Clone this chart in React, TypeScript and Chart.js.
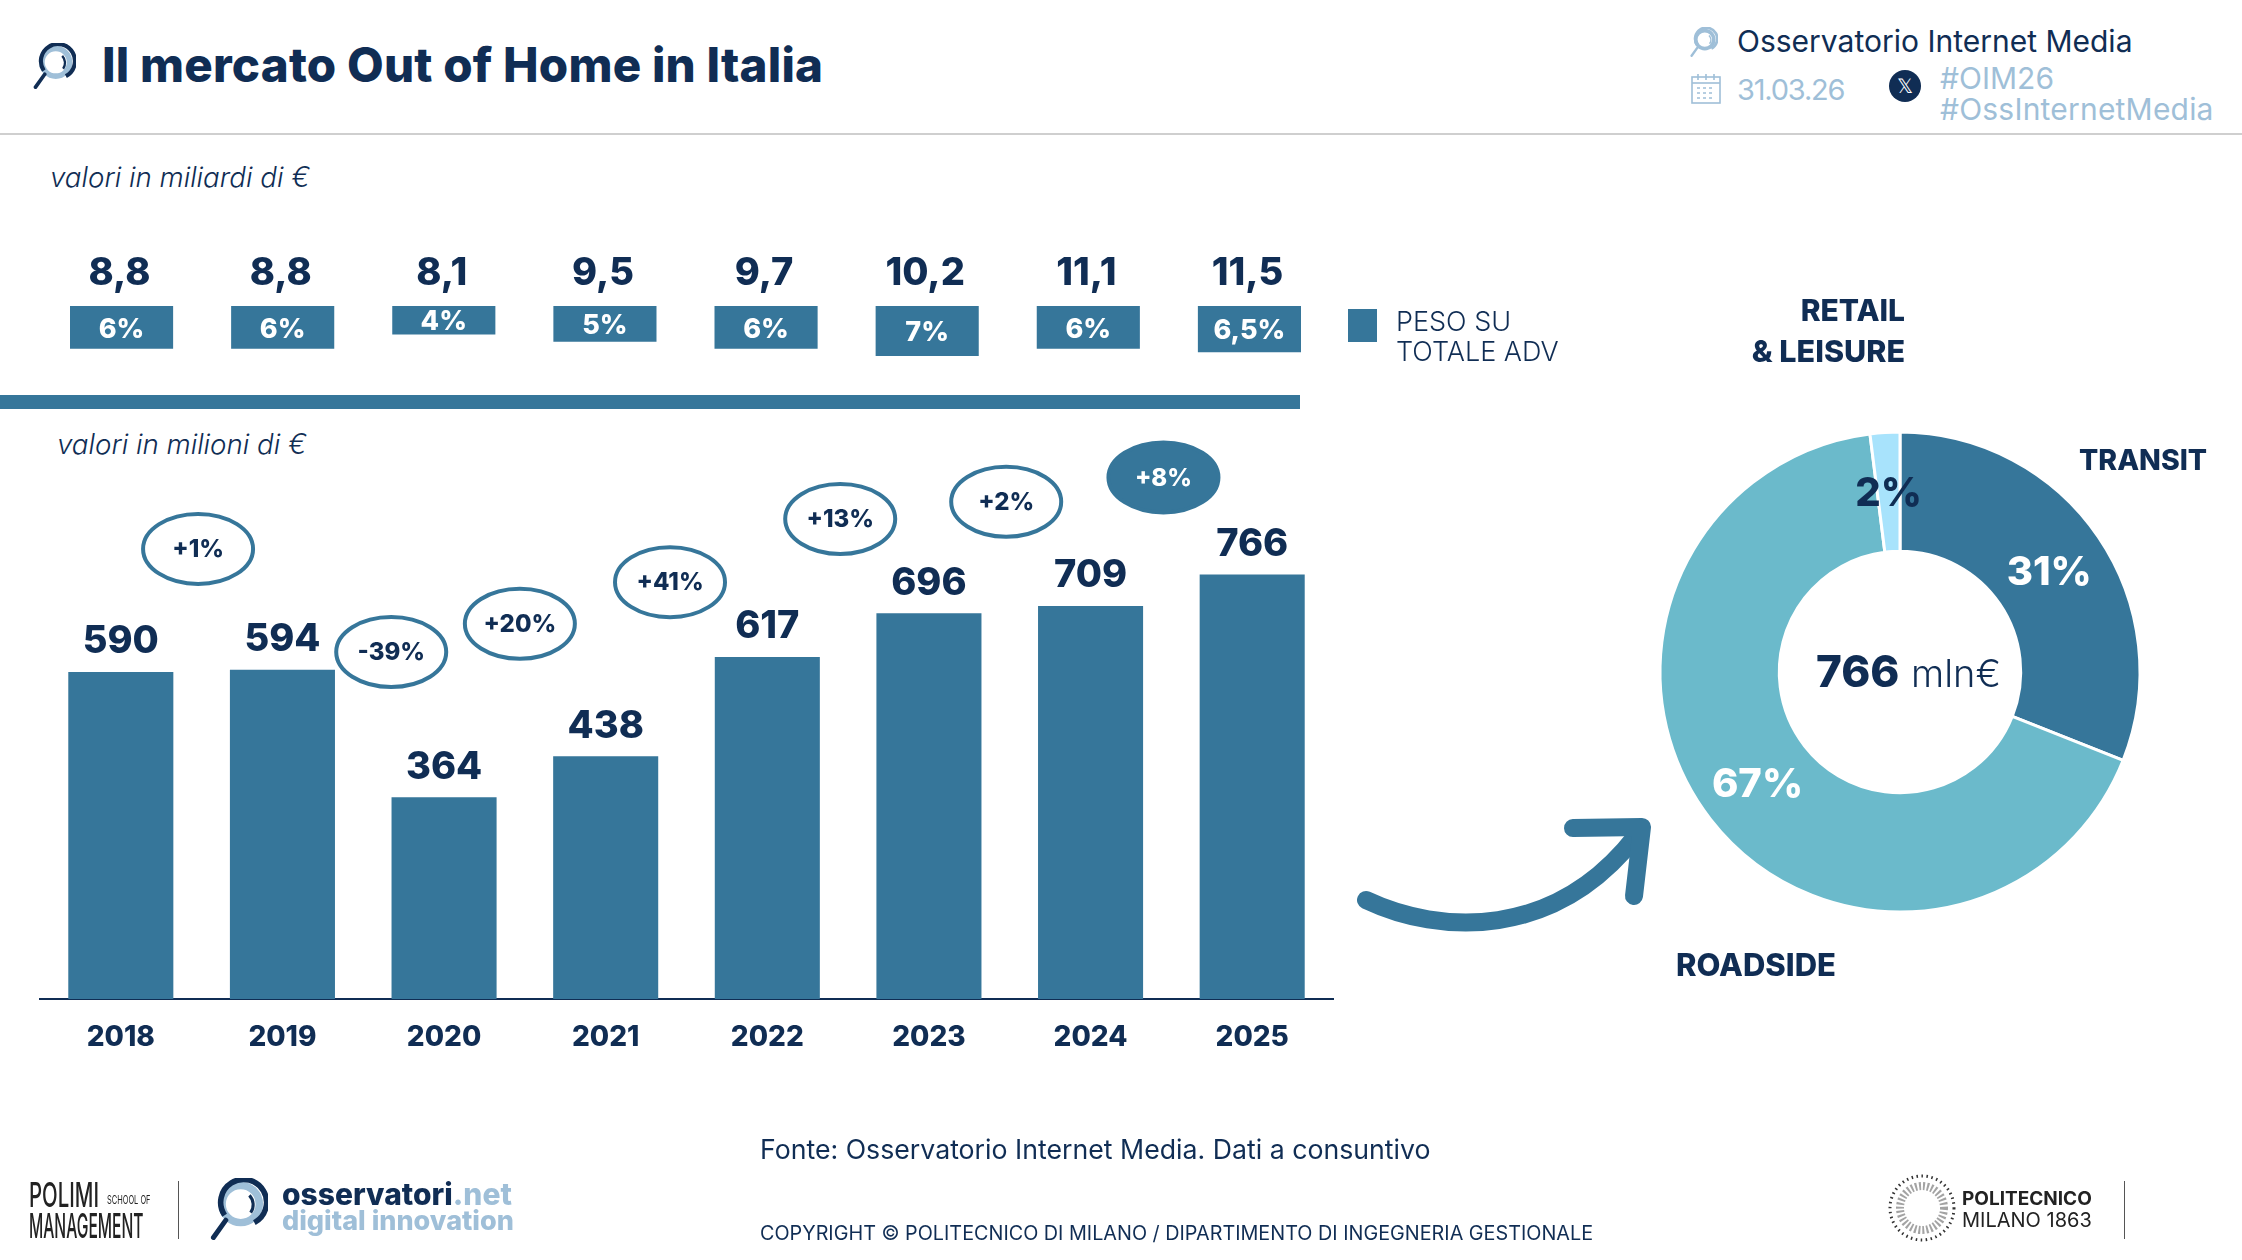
import { useEffect, useRef } from 'react';
import { Chart, registerables } from 'chart.js';

Chart.register(...registerables);

const years = ['2018', '2019', '2020', '2021', '2022', '2023', '2024', '2025'];
const marketValues = [590, 594, 364, 438, 617, 696, 709, 766];
const totalAdv = [8.8, 8.8, 8.1, 9.5, 9.7, 10.2, 11.1, 11.5];
const shareValues = [6, 6, 4, 5, 6, 7, 6, 6.5];
const growthLabels = ['+1%', '-39%', '+20%', '+41%', '+13%', '+2%', '+8%'];
// where the growth ovals sit, in axis units (category index / millions)
const growthAtIndex = [0.478, 1.673, 2.469, 3.398, 4.451, 5.478, 6.451];
const growthAtValue = [812, 626, 677, 752, 866, 897, 941];

const segmentNames = ['TRANSIT', 'ROADSIDE', 'RETAIL & LEISURE'];
const segmentValues = [31, 67, 2];

const NAVY = '#102D54';
const BLUE = '#36769A';
const TEAL = '#6BBACB';
const ICE = '#A8E3FC';
const PALE = '#9FBFD8';
const FONT = 'Inter';

function T({ x, y, size, weight = 400, color = NAVY, italic, spacing = 0, sx = 1, align = 'left', children }: any) {
  const tx = align === 'right' ? 'translateX(-100%) ' : '';
  return (
    <div
      style={{
        position: 'absolute',
        left: x,
        top: y,
        transform: `${tx}translateY(-50%) scaleX(${sx})`,
        transformOrigin: 'left center',
        fontFamily: FONT,
        fontSize: size,
        fontWeight: weight,
        fontStyle: italic ? 'italic' : 'normal',
        letterSpacing: spacing,
        color,
        whiteSpace: 'nowrap',
        lineHeight: 1,
      }}
    >
      {children}
    </div>
  );
}

function Lens({ x, y, size, dark = NAVY, light = PALE }: any) {
  return (
    <svg style={{ position: 'absolute', left: x, top: y }} width={size} height={size} viewBox="0 0 100 100">
      <circle cx="56" cy="42" r="30" fill="none" stroke={light} strokeWidth="12" />
      <path d="M30 60 A37 37 0 1 1 78 72" fill="none" stroke={dark} strokeWidth="9" />
      <path d="M70 28 A22 22 0 0 1 72 56" fill="none" stroke={dark} strokeWidth="5" />
      <path d="M32 68 L12 96" stroke={dark} strokeWidth="8" strokeLinecap="round" />
    </svg>
  );
}

function Calendar({ x, y }: any) {
  return (
    <svg style={{ position: 'absolute', left: x, top: y }} width="30" height="30" viewBox="0 0 30 30" fill="none" stroke={PALE} strokeWidth="1.6">
      <rect x="1" y="3" width="28" height="26" />
      <line x1="1" y1="9" x2="29" y2="9" />
      <line x1="7" y1="0" x2="7" y2="6" />
      <line x1="15" y1="0" x2="15" y2="6" />
      <line x1="23" y1="0" x2="23" y2="6" />
      <line x1="6" y1="14" x2="24" y2="14" strokeDasharray="3 3" />
      <line x1="6" y1="19" x2="24" y2="19" strokeDasharray="3 3" />
      <line x1="6" y1="24" x2="24" y2="24" strokeDasharray="3 3" />
    </svg>
  );
}

function BarPanel() {
  const ref = useRef<HTMLCanvasElement>(null);
  useEffect(() => {
    const chart = new Chart(ref.current!, {
      type: 'bar',
      data: {
        labels: years,
        datasets: [{ data: marketValues, backgroundColor: BLUE, barPercentage: 0.65, categoryPercentage: 1 }],
      },
      options: {
        responsive: false,
        animation: false,
        layout: { padding: { left: 40, right: 67, top: 16, bottom: 0 } },
        plugins: { legend: { display: false }, tooltip: { enabled: false } },
        scales: {
          x: {
            afterFit: (s: any) => { s.height = 62; },
            grid: { display: false, drawTicks: false },
            border: { color: NAVY, width: 2 },
            ticks: { color: NAVY, padding: 22, font: { family: FONT, size: 28, weight: 800 } },
          },
          y: { display: false, min: 0, max: 1050 },
        },
      },
      plugins: [{
        id: 'barLabels',
        afterDatasetsDraw(c: any) {
          const ctx = c.ctx;
          ctx.save();
          ctx.textAlign = 'center';
          ctx.textBaseline = 'middle';
          ctx.fillStyle = NAVY;
          ctx.font = `800 38px ${FONT}`;
          c.getDatasetMeta(0).data.forEach((bar: any, i: number) => {
            ctx.fillText(String(marketValues[i]), bar.x, bar.y - 30);
          });
          growthLabels.forEach((label, i) => {
            const x = c.scales.x.getPixelForValue(growthAtIndex[i]);
            const y = c.scales.y.getPixelForValue(growthAtValue[i]);
            const last = i === growthLabels.length - 1;
            ctx.beginPath();
            ctx.ellipse(x, y, 55, 35, 0, 0, Math.PI * 2);
            ctx.fillStyle = last ? BLUE : '#fff';
            ctx.fill();
            ctx.lineWidth = 4;
            ctx.strokeStyle = BLUE;
            ctx.stroke();
            ctx.fillStyle = last ? '#fff' : NAVY;
            ctx.font = `800 24px ${FONT}`;
            ctx.fillText(label, x, y + 1);
          });
          ctx.restore();
        },
      }],
    } as any);
    return () => chart.destroy();
  }, []);
  return <canvas ref={ref} width={1400} height={660} style={{ position: 'absolute', left: 0, top: 401 }} />;
}

function SharePanel() {
  const ref = useRef<HTMLCanvasElement>(null);
  useEffect(() => {
    const chart = new Chart(ref.current!, {
      type: 'bar',
      data: {
        labels: years,
        datasets: [{ data: shareValues, backgroundColor: BLUE, barPercentage: 0.64, categoryPercentage: 1 }],
      },
      options: {
        responsive: false,
        animation: false,
        layout: { padding: { left: 41, right: 70, top: 66, bottom: 0 } },
        plugins: { legend: { display: false }, tooltip: { enabled: false } },
        scales: {
          x: { display: false },
          y: { display: false, reverse: true, min: 0, max: 8 },
        },
      },
      plugins: [{
        id: 'shareLabels',
        afterDatasetsDraw(c: any) {
          const ctx = c.ctx;
          ctx.save();
          ctx.textAlign = 'center';
          ctx.textBaseline = 'middle';
          c.getDatasetMeta(0).data.forEach((bar: any, i: number) => {
            ctx.fillStyle = '#fff';
            ctx.font = `800 27px ${FONT}`;
            const share = String(shareValues[i]).replace('.', ',') + '%';
            ctx.fillText(share, bar.x, (bar.y + bar.base) / 2 + 2);
            ctx.fillStyle = NAVY;
            ctx.font = `800 38px ${FONT}`;
            ctx.fillText(String(totalAdv[i]).replace('.', ','), bar.x - 2, c.chartArea.top - 32);
          });
          ctx.restore();
        },
      }],
    } as any);
    return () => chart.destroy();
  }, []);
  return <canvas ref={ref} width={1400} height={123} style={{ position: 'absolute', left: 0, top: 240 }} />;
}

function DonutPanel() {
  const ref = useRef<HTMLCanvasElement>(null);
  useEffect(() => {
    const chart = new Chart(ref.current!, {
      type: 'doughnut',
      data: {
        labels: segmentNames,
        datasets: [{
          data: segmentValues,
          backgroundColor: [BLUE, TEAL, ICE],
          borderColor: '#fff',
          borderWidth: 3,
          radius: 240,
          cutout: 125,
        }],
      },
      options: {
        responsive: false,
        animation: false,
        plugins: { legend: { display: false }, tooltip: { enabled: false } },
      },
      plugins: [{
        id: 'donutLabels',
        afterDatasetsDraw(c: any) {
          const ctx = c.ctx;
          ctx.save();
          ctx.textAlign = 'center';
          ctx.textBaseline = 'middle';
          c.getDatasetMeta(0).data.forEach((arc: any, i: number) => {
            const p = arc.getCenterPoint();
            ctx.fillStyle = i === 2 ? NAVY : '#fff';
            ctx.font = `800 40px ${FONT}`;
            ctx.fillText(segmentValues[i] + '%', p.x, p.y + 2);
          });
          ctx.restore();
        },
      }],
    } as any);
    return () => chart.destroy();
  }, []);
  return <canvas ref={ref} width={500} height={500} style={{ position: 'absolute', left: 1650, top: 422 }} />;
}

export default function App() {
  return (
    <div style={{ position: 'absolute', left: 0, top: 0, width: 2242, height: 1260, background: '#fff', overflow: 'hidden' }}>
      <Lens x={30} y={43} size={46} />
      <T x={102} y={65} size={47.5} weight={800} spacing={0.2}>Il mercato Out of Home in Italia</T>
      <Lens x={1688} y={27} size={30} dark={PALE} light={PALE} />
      <T x={1737} y={41} size={30}>Osservatorio Internet Media</T>
      <Calendar x={1691} y={74} />
      <T x={1737} y={89} size={29} color={PALE} spacing={-1.2}>31.03.26</T>
      <div style={{ position: 'absolute', left: 1889, top: 70, width: 32, height: 32, borderRadius: 16, background: NAVY, color: '#fff', fontFamily: FONT, fontSize: 20, textAlign: 'center', lineHeight: '32px' }}>𝕏</div>
      <T x={1940} y={78} size={30} color={PALE}>#OIM26</T>
      <T x={1940} y={109} size={30} color={PALE} spacing={0.2}>#OssInternetMedia</T>
      <div style={{ position: 'absolute', left: 0, top: 133, width: 2242, height: 2, background: '#CFCFCF' }} />

      <T x={50} y={178} size={27.7} weight={300} italic>valori in miliardi di €</T>
      <SharePanel />
      <div style={{ position: 'absolute', left: 0, top: 395, width: 1300, height: 14, background: BLUE }} />
      <div style={{ position: 'absolute', left: 1348, top: 309, width: 29, height: 33, background: BLUE }} />
      <T x={1396} y={321} size={27} weight={300}>PESO SU</T>
      <T x={1396} y={351} size={27} weight={300}>TOTALE ADV</T>

      <T x={57} y={445} size={27.7} weight={300} italic>valori in milioni di €</T>
      <BarPanel />

      <svg style={{ position: 'absolute', left: 0, top: 0 }} width="2242" height="1260" fill="none" stroke={BLUE} strokeWidth="18" strokeLinecap="round" strokeLinejoin="round">
        <path d="M1366 900 C1440 935 1555 940 1636 836" />
        <path d="M1573 828 L1642 827 L1634 896" />
      </svg>

      <DonutPanel />
      <T x={1816} y={671} size={44} weight={800}>766</T>
      <T x={1911} y={673} size={38} weight={300}>mln€</T>
      <T x={1905} y={310} size={30} weight={800} align="right">RETAIL</T>
      <T x={1905} y={351} size={30.5} weight={800} align="right">&amp; LEISURE</T>
      <T x={2079} y={460} size={28.5} weight={800}>TRANSIT</T>
      <T x={1676} y={964} size={31} weight={800}>ROADSIDE</T>

      <T x={760} y={1149} size={26.7}>Fonte: Osservatorio Internet Media. Dati a consuntivo</T>
      <T x={760} y={1234} size={19.8}>COPYRIGHT © POLITECNICO DI MILANO / DIPARTIMENTO DI INGEGNERIA GESTIONALE</T>

      <T x={29} y={1195} size={34} weight={500} color="#222" sx={0.6}>POLIMI</T>
      <T x={107} y={1200} size={12} color="#222" sx={0.62}>SCHOOL OF</T>
      <T x={29} y={1226} size={34} weight={500} color="#222" sx={0.46}>MANAGEMENT</T>
      <div style={{ position: 'absolute', left: 178, top: 1181, width: 1, height: 58, background: '#555' }} />
      <Lens x={206} y={1178} size={62} />
      <T x={282} y={1194} size={30} weight={800}>osservatori<span style={{ color: PALE }}>.net</span></T>
      <T x={282} y={1220} size={27} weight={800} color={PALE}>digital innovation</T>

      <svg style={{ position: 'absolute', left: 1888, top: 1174 }} width="68" height="68" viewBox="0 0 68 68" fill="none" stroke="#333">
        <circle cx="34" cy="34" r="32" strokeWidth="3" strokeDasharray="1.5 3.5" />
        <circle cx="34" cy="34" r="22" strokeWidth="8" strokeDasharray="2 2" opacity="0.45" />
      </svg>
      <T x={1962} y={1198} size={19} weight={700} color="#222">POLITECNICO</T>
      <T x={1962} y={1220} size={20} color="#222">MILANO 1863</T>
      <div style={{ position: 'absolute', left: 2124, top: 1181, width: 1, height: 58, background: '#555' }} />
    </div>
  );
}
